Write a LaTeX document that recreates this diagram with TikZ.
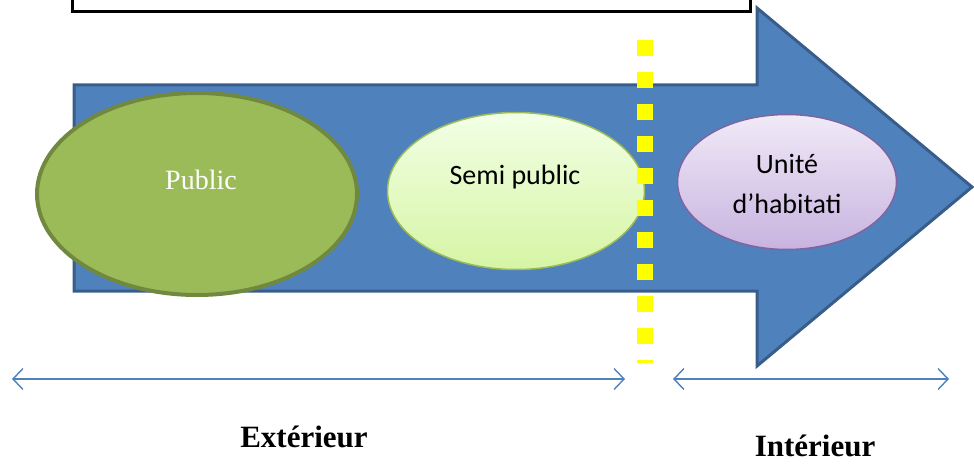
\documentclass[tikz,border=0pt]{standalone}
\usepackage{fontspec}
\setmainfont{Liberation Serif}
\newfontfamily\calibri{Carlito}
\usetikzlibrary{shapes.geometric,arrows.meta,positioning}
\definecolor{ArrowBlue}{RGB}{79,129,189}
\definecolor{ArrowEdge}{RGB}{56,93,138}
\definecolor{PubGreen}{RGB}{155,187,89}
\definecolor{PubEdge}{RGB}{113,137,63}
\definecolor{SemiTop}{RGB}{242,255,230}
\definecolor{SemiBot}{RGB}{214,245,164}
\definecolor{UnitTop}{RGB}{240,234,247}
\definecolor{UnitBot}{RGB}{200,179,224}
\definecolor{UnitEdge}{RGB}{128,100,162}
\definecolor{LimitYellow}{RGB}{255,255,0}

\begin{document}
\begin{tikzpicture}[x=1pt,y=-1pt,
  zone/.style={ellipse,inner sep=0pt},
  lbl/.style={font=\calibri\fontsize{28}{40}\selectfont,align=center},
  side/.style={font=\bfseries\fontsize{31}{36}\selectfont,inner sep=1pt},
  span/.style={{Straight Barb[length=10pt,width=21pt]}-{Straight Barb[length=10pt,width=21pt]},
               draw=ArrowBlue,line width=1.4pt},
]
\clip (0,0) rectangle (974,465);
% frame at the top
\draw[line width=3pt] (72,-10) rectangle (750,12);
% big arrow
\draw[fill=ArrowBlue,draw=ArrowEdge,line width=3pt,line join=miter]
  (74,85) -- (757,85) -- (757,8) -- (972,187) -- (757,366) -- (757,291) -- (74,291) -- cycle;
% zones
\node[zone,fill=PubGreen,draw=PubEdge,line width=4pt,minimum width=320pt,minimum height=202pt] (public) at (197,194) {};
\node[zone,top color=SemiTop,bottom color=SemiBot,draw=PubGreen,line width=1.5pt,minimum width=257pt,minimum height=157pt] (semi) at (516,191) {};
\node[zone,top color=UnitTop,bottom color=UnitBot,draw=UnitEdge,line width=1.5pt,minimum width=219pt,minimum height=135pt] (unite) at (787,182) {};
\node[font=\fontsize{28}{34}\selectfont,text=white] (publbl) at (201,180) {Public};
\node[lbl] (semilbl) at (515,177) {Semi public};
\node[lbl] (unitelbl) at (787,184) {Unité\\d’habitati};
% limit
\draw[LimitYellow,line width=16pt,dash pattern=on 16pt off 16pt] (645,40) -- (645,363);
% extents
\coordinate (extL) at (12,379);
\coordinate (extR) at (625,379);
\coordinate (intL) at (673,379);
\coordinate (intR) at (949,379);
\foreach \a/\b in {extL/extR,intL/intR}
  \draw[span] (\a) -- (\b);
\node[side] (ext) at (304,437) {Extérieur};
\node[side] (int) at (815,446) {Intérieur};
\end{tikzpicture}
\end{document}
